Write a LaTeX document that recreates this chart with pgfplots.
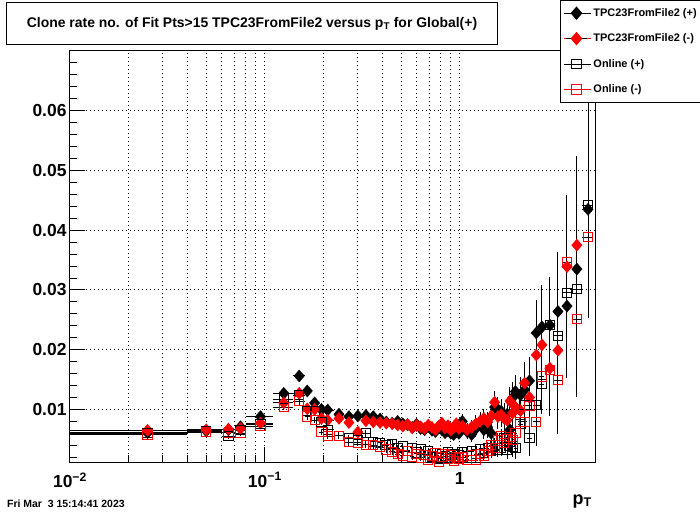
\documentclass[border=0pt]{standalone}
\usepackage{fontspec}
\setmainfont{Liberation Sans}
\usepackage{pgfplots}
\pgfplotsset{compat=1.18}
\usepackage{pgfplotstable}

% ROOT-like legend entry: a line through the marker
\pgfplotsset{
  rootleg/.style={legend image code/.code={%
    \path (-2bp,0bp) -- (25bp,0bp);
    \draw[#1,line width=1bp] (0bp,0bp)--(21bp,0bp);
    \draw[##1] plot coordinates {(10.5bp,0bp)};}},
}

% a/b = TPC23FromFile2 (+)/(-), c/d = Online (+)/(-)
\pgfplotstableread{
x ex a ea b eb c ec d ed
0.025 0.015 0.0061 0.0004 0.0065 0.0004 0.0060 0.0004 0.0058 0.0004
0.05 0.01 0.0064 0.0003 0.0066 0.0003 0.0063 0.0003 0.0062 0.0003
0.065 0.005 0.0066 0.0004 0.0067 0.0004 0.0055 0.0004 0.0061 0.0004
0.075 0.005 0.0071 0.0004 0.0068 0.0004 0.0065 0.0004 0.0060 0.0004
0.095 0.015 0.0088 0.0004 0.0077 0.0004 0.0075 0.0004 0.0072 0.0004
0.125 0.015 0.0127 0.0005 0.0111 0.0005 0.0117 0.0005 0.0104 0.0005
0.15 0.01 0.0156 0.0006 0.0127 0.0006 0.0124 0.0006 0.0114 0.0006
0.165 0.005 0.0131 0.0006 0.0101 0.0006 0.0098 0.0006 0.0088 0.0006
0.18 0.01 0.0111 0.0005 0.0100 0.0005 0.0098 0.0005 0.0082 0.0005
0.195 0.005 0.0100 0.0005 0.0085 0.0005 0.0079 0.0005 0.0062 0.0005
0.21 0.015 0.0099 0.0005 0.0082 0.0005 0.0066 0.0005 0.0055 0.0005
0.24 0.015 0.0092 0.0006 0.0085 0.0006 0.0056 0.0006 0.0056 0.0006
0.27 0.015 0.0088 0.0006 0.0078 0.0006 0.0052 0.0006 0.0045 0.0006
0.30 0.015 0.0089 0.0006 0.0062 0.0006 0.0049 0.0006 0.0044 0.0006
0.33 0.015 0.0090 0.0006 0.0081 0.0006 0.0060 0.0006 0.0041 0.0006
0.36 0.015 0.0088 0.0006 0.0079 0.0006 0.0046 0.0006 0.0040 0.0006
0.39 0.015 0.0084 0.0006 0.0078 0.0006 0.0044 0.0006 0.0038 0.0006
0.42 0.015 0.0079 0.0006 0.0077 0.0006 0.0040 0.0006 0.0033 0.0006
0.45 0.015 0.0077 0.0006 0.0076 0.0006 0.0042 0.0006 0.0029 0.0006
0.48 0.015 0.0080 0.0006 0.0074 0.0006 0.0035 0.0006 0.0025 0.0006
0.51 0.015 0.0076 0.0006 0.0072 0.0006 0.0038 0.0006 0.0023 0.0006
0.54 0.015 0.0074 0.0006 0.0075 0.0006 0.0031 0.0006 0.0030 0.0006
0.57 0.015 0.0070 0.0006 0.0069 0.0006 0.0036 0.0006 0.0021 0.0006
0.60 0.015 0.0075 0.0006 0.0073 0.0006 0.0028 0.0006 0.0026 0.0006
0.63 0.015 0.0068 0.0006 0.0071 0.0006 0.0033 0.0006 0.0019 0.0006
0.66 0.015 0.0066 0.0006 0.0068 0.0006 0.0024 0.0006 0.0024 0.0006
0.69 0.015 0.0072 0.0006 0.0074 0.0006 0.0030 0.0006 0.0015 0.0006
0.72 0.015 0.0065 0.0006 0.0070 0.0006 0.0021 0.0006 0.0022 0.0006
0.75 0.015 0.0063 0.0006 0.0066 0.0006 0.0027 0.0006 0.0027 0.0006
0.78 0.015 0.0069 0.0006 0.0072 0.0006 0.0018 0.0006 0.0013 0.0006
0.81 0.015 0.0066 0.0006 0.0077 0.0006 0.0025 0.0006 0.0020 0.0006
0.84 0.015 0.0061 0.0006 0.0069 0.0006 0.0022 0.0006 0.0025 0.0006
0.87 0.015 0.0064 0.0006 0.0073 0.0006 0.0029 0.0006 0.0017 0.0006
0.90 0.015 0.0060 0.0006 0.0065 0.0006 0.0019 0.0006 0.0023 0.0006
0.93 0.015 0.0058 0.0006 0.0070 0.0006 0.0026 0.0006 0.0014 0.0006
0.96 0.015 0.0063 0.0006 0.0076 0.0006 0.0021 0.0006 0.0021 0.0006
0.99 0.015 0.0060 0.0006 0.0068 0.0006 0.0024 0.0006 0.0018 0.0006
1.03 0.03 0.0080 0.0012 0.0072 0.0012 0.0028 0.0008 0.0020 0.0008
1.09 0.03 0.0063 0.0012 0.0066 0.0012 0.0022 0.0008 0.0016 0.0008
1.15 0.03 0.0058 0.0013 0.0070 0.0013 0.0030 0.0008 0.0023 0.0008
1.21 0.03 0.0068 0.0014 0.0076 0.0014 0.0025 0.0009 0.0015 0.0009
1.27 0.03 0.0077 0.0015 0.0080 0.0015 0.0033 0.0009 0.0026 0.0009
1.33 0.03 0.0066 0.0016 0.0085 0.0016 0.0027 0.0010 0.0023 0.0010
1.39 0.03 0.0070 0.0017 0.0079 0.0017 0.0035 0.0010 0.0030 0.0010
1.45 0.03 0.0060 0.0018 0.0089 0.0018 0.0030 0.0011 0.0040 0.0011
1.51 0.03 0.0104 0.0019 0.0112 0.0019 0.0041 0.0012 0.0036 0.0012
1.57 0.03 0.0100 0.0020 0.0088 0.0020 0.0032 0.0012 0.0048 0.0012
1.63 0.03 0.0097 0.0021 0.0091 0.0021 0.0035 0.0013 0.0055 0.0013
1.69 0.03 0.0088 0.0022 0.0085 0.0022 0.0052 0.0014 0.0044 0.0014
1.75 0.03 0.0092 0.0023 0.0082 0.0023 0.0032 0.0015 0.0050 0.0015
1.81 0.03 0.0066 0.0024 0.0114 0.0024 0.0045 0.0016 0.0054 0.0016
1.87 0.03 0.0120 0.0026 0.0094 0.0026 0.0038 0.0017 0.0049 0.0017
1.93 0.03 0.0130 0.0028 0.0104 0.0028 0.0035 0.0018 0.0060 0.0018
2.05 0.06 0.0124 0.0030 0.0098 0.0030 0.0075 0.0020 0.0079 0.0020
2.15 0.05 0.0133 0.0035 0.0144 0.0035 0.0107 0.0030 0.0079 0.0030
2.28 0.07 0.0148 0.0040 0.0120 0.0040 0.0052 0.0030 0.0106 0.0030
2.47 0.10 0.0228 0.0055 0.0191 0.0055 0.0107 0.0040 0.0079 0.0040
2.64 0.08 0.0238 0.0070 0.0208 0.0070 0.0142 0.0050 0.0155 0.0050
2.90 0.15 0.0241 0.0080 0.0169 0.0080 0.0241 0.0070 0.0166 0.0070
3.19 0.15 0.0264 0.0100 0.0199 0.0100 0.0223 0.0090 0.0149 0.0090
3.55 0.20 0.0273 0.0120 0.0339 0.0120 0.0295 0.0110 0.0346 0.0110
3.99 0.22 0.0335 0.0150 0.0375 0.0150 0.0301 0.0130 0.0251 0.0130
4.55 0.30 0.0435 0.0152 0.0750 0.0467 0.0442 0.0160 0.0388 0.0135
}\clonedata

\begin{document}
\begin{tikzpicture}
\useasboundingbox (-70bp,-52bp) rectangle (630bp,462bp);
\begin{axis}[
    at={(0bp,0bp)}, anchor=south west,
    scale only axis, width=526bp, height=411bp,
    xmode=log, xmin=0.01, xmax=5,
    ymin=0.0012, ymax=0.070,
    axis line style={line width=1bp},
    every tick/.style={black, line width=1bp},
    tick align=inside, tick pos=left,
    major tick length=15bp, minor tick length=7.5bp,
    xtick={0.01,0.1,1},
    xticklabels={10\textsuperscript{−2},10\textsuperscript{−1},1},
    xticklabel style={yshift=-7bp},
    ytick={0.01,0.02,0.03,0.04,0.05,0.06},
    minor ytick={0.002,0.004,0.006,0.008,0.012,0.014,0.016,0.018,0.022,0.024,0.026,0.028,0.032,0.034,0.036,0.038,0.042,0.044,0.046,0.048,0.052,0.054,0.056,0.058,0.062,0.064,0.066,0.068},
    scaled y ticks=false,
    yticklabel style={/pgf/number format/.cd, fixed, fixed zerofill, precision=2},
    /pgf/number format/assume math mode=true,
    ticklabel style={font=\bfseries\fontsize{17.5}{17.5}\selectfont},
    xmajorgrids, xminorgrids, ymajorgrids,
    major grid style={black, line width=1bp, dash pattern=on 1bp off 3bp},
    minor grid style={black, line width=1bp, dash pattern=on 1bp off 3bp},
    legend style={at={(1,1)}, anchor=north west, xshift=-36bp, yshift=51bp,
        draw=black, line width=1bp, fill=white,
        font=\bfseries\fontsize{11}{13}\selectfont,
        inner xsep=3bp, inner ysep=6bp, row sep=12bp},
    legend cell align=left,
]
\addplot[only marks, black, mark=diamond*, mark size=6bp, mark options={xscale=1.15}, rootleg=black,
    error bars/.cd, x dir=both, x explicit, y dir=both, y explicit,
    error bar style={black, line width=1bp}, error mark=none]
    table[x=x, y=a, x error=ex, y error=ea] {\clonedata};
\addplot[only marks, red, mark=diamond*, mark size=6bp, mark options={xscale=1.15}, rootleg=black,
    error bars/.cd, x dir=both, x explicit, y dir=both, y explicit,
    error bar style={black, line width=1bp}, error mark=none]
    table[x=x, y=b, x error=ex, y error=eb] {\clonedata};
\addplot[only marks, black, mark=square, mark size=4.6bp, mark options={line width=1bp}, rootleg=black,
    error bars/.cd, x dir=both, x explicit, y dir=both, y explicit,
    error bar style={black, line width=1bp}, error mark=none]
    table[x=x, y=c, x error=ex, y error=ec] {\clonedata};
\addplot[only marks, red, mark=square, mark size=4.6bp, mark options={line width=1bp}, rootleg=red,
    error bars/.cd, x dir=both, x explicit, y dir=both, y explicit,
    error bar style={black, line width=1bp}, error mark=none]
    table[x=x, y=d, x error=ex, y error=ed] {\clonedata};
\legend{TPC23FromFile2 (+),TPC23FromFile2 (-),Online (+),Online (-)}
\end{axis}
\draw[line width=1bp] (-63bp,417bp) rectangle (427bp,459bp);
\node[font=\bfseries\fontsize{14}{16}\selectfont] at (182bp,438bp)
    {Clone rate no. of Fit Pts>15 TPC23FromFile2 versus p\textsubscript{T} for Global(+)};
\node[anchor=west, font=\bfseries\fontsize{10.5}{12}\selectfont, inner sep=0pt] at (-63bp,-42bp)
    {Fri Mar\ \ 3 15:14:41 2023};
\node[anchor=base east, font=\bfseries\fontsize{18}{20}\selectfont, inner sep=0pt] at (522bp,-42bp)
    {p\textsubscript{T}};
\end{tikzpicture}
\end{document}
